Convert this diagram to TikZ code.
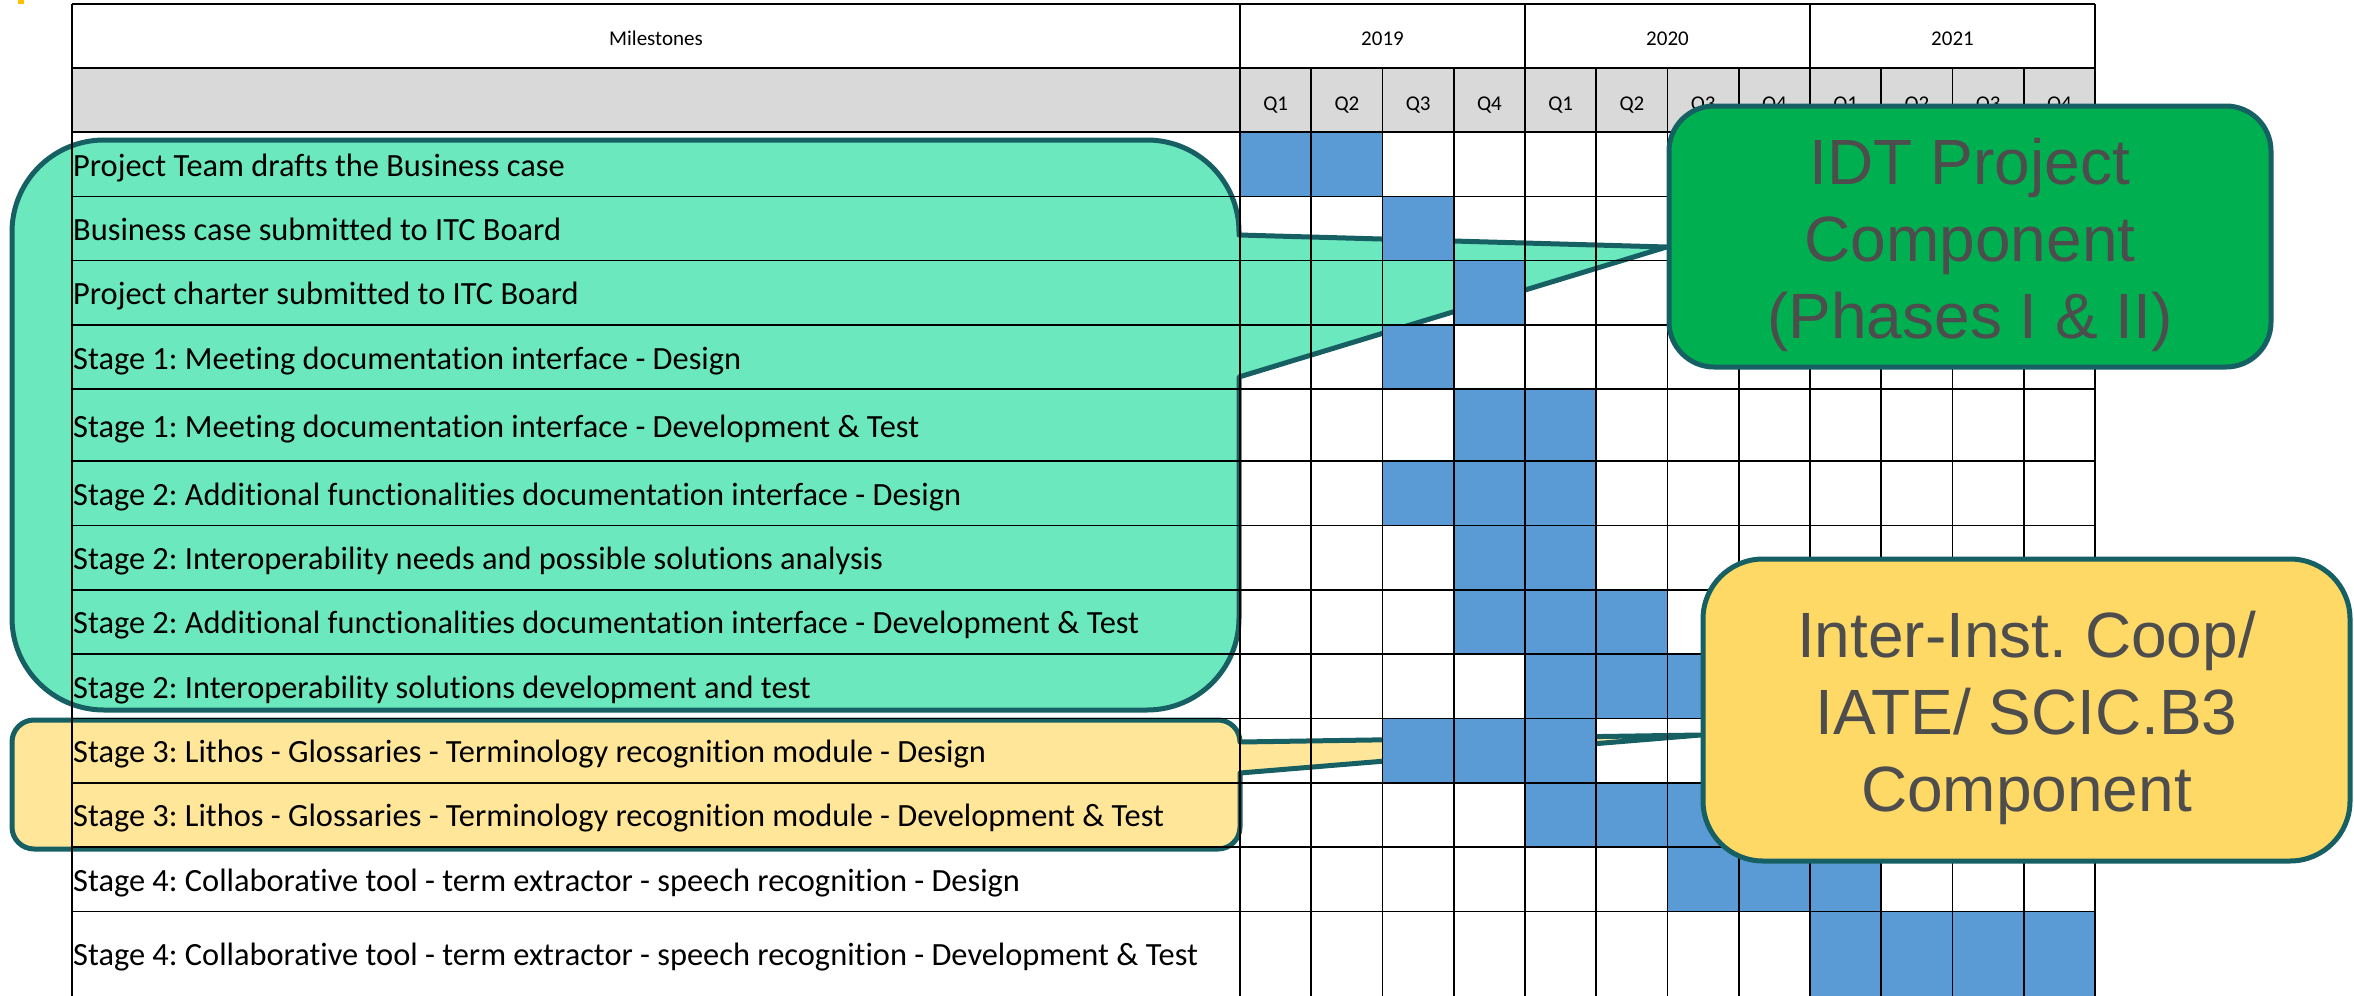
\documentclass[tikz,border=0pt]{standalone}
\usepackage{fontspec}
\setmainfont{Carlito}[Ligatures=CommonOff]
\newfontfamily\compfont{Liberation Sans}
\frenchspacing

\pgfdeclarelayer{behind}
\pgfsetlayers{behind,main}

\definecolor{mint}{RGB}{107,232,190}
\definecolor{calledge}{RGB}{22,96,100}
\definecolor{barblue}{RGB}{91,155,213}
\definecolor{hdrgray}{RGB}{217,217,217}
\definecolor{idtgreen}{RGB}{0,176,80}
\definecolor{iategold}{RGB}{255,217,102}
\definecolor{iatelight}{RGB}{255,230,153}
\definecolor{boxtext}{RGB}{77,77,77}
\definecolor{tinyorange}{RGB}{255,192,0}

\begin{document}
\begin{tikzpicture}[x=1pt,y=-1pt,
    grid/.style={line width=1.6pt},
    hdr/.style={font=\fontsize{21}{25}\selectfont,anchor=base,inner sep=0},
    task/.style={font=\fontsize{32.4}{38}\selectfont,anchor=base west,inner sep=0},
    callbox/.style={draw=calledge,line width=5pt,line join=round},
    comp/.style={callbox,inner sep=0},
    complabel/.style={font=\compfont\fontsize{64}{77}\selectfont,text=boxtext,align=center}]
  \useasboundingbox (0,0) rectangle (2354,996);
  \fill[fill=tinyorange] (18,0) rectangle (24,4);
  % header
  \fill[fill=hdrgray] (72,68) rectangle (2095,132);
  \node[hdr] (ms) at (656,45) {Milestones};
  \foreach \yr [count=\k] in {2019,2020,2021}
    \node[hdr] (y\yr) at ({1240+(\k-0.5)*285},45) {\yr};
  \foreach \c [evaluate=\c as \q using {int(mod(\c-1,4)+1)}] in {1,...,12}
    \node[hdr] (q\c) at ({1240+(\c-0.5)*71.25},110) {Q\q};
  % milestones and bars
  \foreach \t/\b/\txt/\cols [count=\r] in {
      132/196.3/{Project Team drafts the Business case}/{1,2},
      196.3/260.6/{Business case submitted to ITC Board}/{3},
      260.6/324.9/{Project charter submitted to ITC Board}/{4},
      324.9/389.2/{Stage 1: Meeting documentation interface - Design}/{3},
      389.2/461.2/{Stage 1: Meeting documentation interface - Development \& Test}/{4,5},
      461.2/525.5/{Stage 2: Additional functionalities documentation interface - Design}/{3,4,5},
      525.5/589.8/{Stage 2: Interoperability needs and possible solutions analysis}/{4,5},
      589.8/654.1/{Stage 2: Additional functionalities documentation interface - Development \& Test}/{4,5,6},
      654.1/718.4/{Stage 2: Interoperability solutions development and test}/{5,6,7},
      718.4/782.7/{Stage 3: Lithos - Glossaries - Terminology recognition module - Design}/{3,4,5},
      782.7/847/{Stage 3: Lithos - Glossaries - Terminology recognition module - Development \& Test}/{5,6,7},
      847/911.3/{Stage 4: Collaborative tool - term extractor - speech recognition - Design}/{7,8,9},
      911.3/996/{Stage 4: Collaborative tool - term extractor - speech recognition - Development \& Test}/{9,10,11,12}} {
    \foreach \c in \cols
      \fill[fill=barblue] ({1240+(\c-1)*71.25},\t) rectangle ({1240+\c*71.25},\b);
    \node[task] (task\r) at (73,{(\t+\b)/2+12}) {\txt};
  }
  % grid
  \foreach \y in {4,68,132,196.3,260.6,324.9,389.2,461.2,525.5,589.8,654.1,718.4,782.7,847,911.3}
    \draw[grid] (72,\y) -- (2095,\y);
  \foreach \x in {72,1240,1525,1810,2095}
    \draw[grid] (\x,4) -- (\x,996);
  \foreach \c in {1,2,3,5,6,7,9,10,11}
    \draw[grid] ({1240+\c*71.25},68) -- ({1240+\c*71.25},996);
  % components
  \node[comp,fill=idtgreen,rounded corners=45pt,minimum width=602pt,minimum height=261pt] (idt) at (1970,236.5) {};
  \node[complabel] (idttxt) at ([yshift=-8pt]idt.center) {IDT Project\\Component\\(Phases I \& II)};
  \node[comp,fill=iategold,rounded corners=60pt,minimum width=647pt,minimum height=302pt] (iate) at (2026.5,710) {};
  \node[complabel] (iatetxt) at ([yshift=-8pt]iate.center) {Inter-Inst. Coop/\\IATE/ SCIC.B3\\Component};
  \begin{pgfonlayer}{behind}
    \filldraw[callbox,fill=mint] (104,140) -- (1147,140) arc[start angle=270,end angle=360,radius=92]
      -- (1239,235) -- (idt.west |- 0,247) -- (1239,377) -- (1239,618) arc[start angle=0,end angle=90,radius=92]
      -- (104,710) arc[start angle=90,end angle=180,radius=92] -- (12,232) arc[start angle=180,end angle=270,radius=92] -- cycle;
    \filldraw[callbox,fill=iatelight] (34,720) -- (1218,720) arc[start angle=270,end angle=360,radius=22]
      -- (1240,742) -- (iate.west |- 0,735) -- (1240,773) -- (1240,827) arc[start angle=0,end angle=90,radius=22]
      -- (34,849) arc[start angle=90,end angle=180,radius=22] -- (12,742) arc[start angle=180,end angle=270,radius=22] -- cycle;
  \end{pgfonlayer}
\end{tikzpicture}
\end{document}
